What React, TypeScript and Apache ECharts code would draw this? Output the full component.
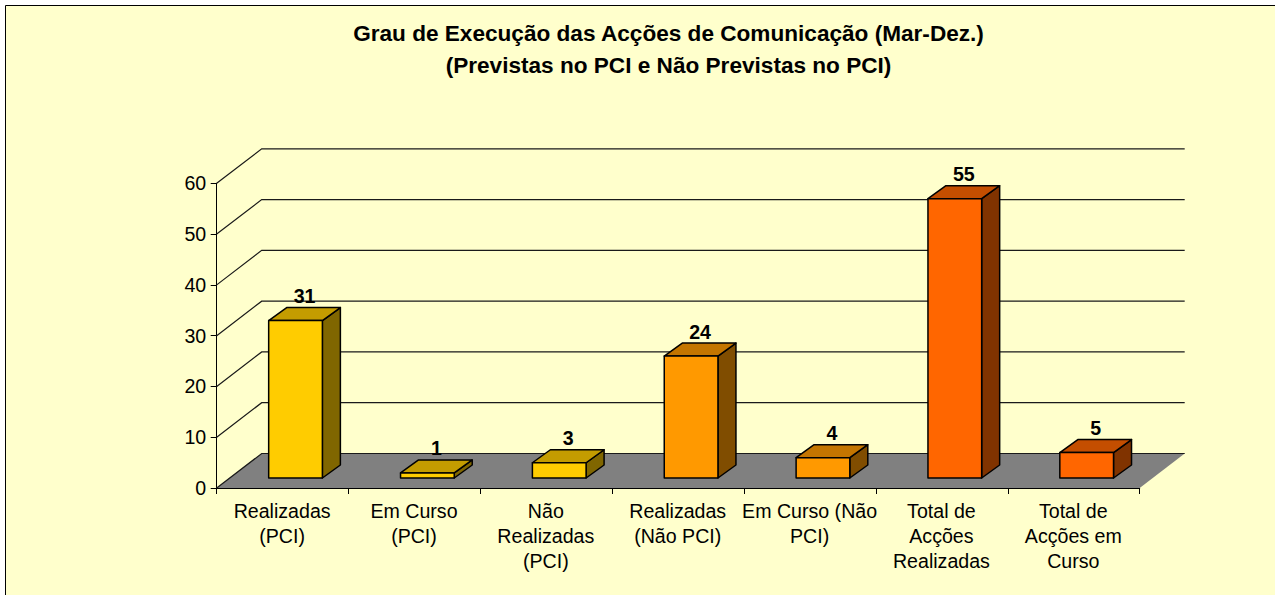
import React, { useEffect, useRef } from "react";
import * as echarts from "echarts";

const titleText = "Grau de Execução das Acções de Comunicação (Mar-Dez.)\n(Previstas no PCI e Não Previstas no PCI)";
const categories = [
  "Realizadas\n(PCI)",
  "Em Curso\n(PCI)",
  "Não\nRealizadas\n(PCI)",
  "Realizadas\n(Não PCI)",
  "Em Curso (Não\nPCI)",
  "Total de\nAcções\nRealizadas",
  "Total de\nAcções em\nCurso",
];
const values = [31, 1, 3, 24, 4, 55, 5];
const frontColors = ["#FFCC00", "#FFCC00", "#FFCC00", "#FF9900", "#FF9900", "#FF6600", "#FF6600"];
const topColors = ["#C49C00", "#C49C00", "#C49C00", "#C47500", "#C47500", "#C44E00", "#C44E00"];
const sideColors = ["#806600", "#806600", "#806600", "#804D00", "#804D00", "#803300", "#803300"];
const gridTicks = [0, 10, 20, 30, 40, 50, 60];

const FONT = '"Liberation Sans", Arial, sans-serif';
const WALL_DX = 45;
const WALL_DY = 34.5;
const BAR_DX = 18;
const BAR_DY = 13;
const FRONT_DX = 12.9;
const FRONT_DY = 10;
const BAR_W = 53.7;

export default function App() {
  const ref = useRef<HTMLDivElement>(null);
  useEffect(() => {
    document.body.style.margin = "0";
    const chart = echarts.init(ref.current!, undefined, { renderer: "svg" });
    chart.setOption({
      animation: false,
      backgroundColor: "#FFFFFF",
      graphic: [
        {
          type: "rect",
          z: -10,
          silent: true,
          shape: { x: 5.5, y: 5.5, width: 1300, height: 620 },
          style: { fill: "#FFFFCC", stroke: "#000000", lineWidth: 1 },
        },
      ],
      title: {
        text: titleText,
        left: 663.5,
        top: 12,
        textAlign: "center",
        textStyle: { fontFamily: FONT, fontWeight: "bold", fontSize: 22.6, lineHeight: 32, color: "#000000" },
      },
      grid: { left: 216.7, top: 183.3, width: 923, height: 304.7 },
      xAxis: {
        type: "category",
        data: categories,
        boundaryGap: true,
        axisLine: { lineStyle: { color: "#000000", width: 1 } },
        axisTick: { show: true, length: 6, alignWithLabel: false, lineStyle: { color: "#000000" } },
        axisLabel: { interval: 0, fontFamily: FONT, fontSize: 19.6, lineHeight: 25, color: "#000000", margin: 10, padding: [0, 1, 0, 0] },
        splitLine: { show: false },
      },
      yAxis: {
        type: "value",
        min: 0,
        max: 60,
        interval: 10,
        axisLine: { show: true, lineStyle: { color: "#000000", width: 1 } },
        axisTick: { show: true, length: 6, lineStyle: { color: "#000000" } },
        axisLabel: { fontFamily: FONT, fontSize: 19.6, color: "#000000", margin: 10.5 },
        splitLine: { show: false },
      },
      series: [
        {
          type: "custom",
          z: 1,
          silent: true,
          data: [[0, 0]],
          encode: { x: 0, y: 1 },
          renderItem: (params: any, api: any) => {
            const cs = params.coordSys;
            const y = api.coord([0, 0])[1];
            return {
              type: "polygon",
              shape: {
                points: [
                  [cs.x, y],
                  [cs.x + WALL_DX, y - WALL_DY],
                  [cs.x + cs.width + WALL_DX, y - WALL_DY],
                  [cs.x + cs.width, y],
                ],
              },
              style: { fill: "#808080", stroke: "none" },
            };
          },
        },
        {
          type: "custom",
          z: 2,
          silent: true,
          data: gridTicks.map((v) => [0, v]),
          encode: { x: 0, y: 1 },
          renderItem: (params: any, api: any) => {
            const cs = params.coordSys;
            const y = api.coord([0, api.value(1)])[1];
            return {
              type: "polyline",
              shape: {
                points: [
                  [cs.x, y],
                  [cs.x + WALL_DX, y - WALL_DY],
                  [cs.x + cs.width + WALL_DX, y - WALL_DY],
                ],
              },
              style: { fill: "none", stroke: "#1A1A1A", lineWidth: 1.2 },
            };
          },
        },
        {
          type: "custom",
          z: 3,
          silent: true,
          data: values.map((v, i) => [i, v]),
          encode: { x: 0, y: 1 },
          renderItem: (params: any, api: any) => {
            const i = api.value(0);
            const v = api.value(1);
            const cx = api.coord([i, 0])[0] + FRONT_DX;
            const x0 = cx - BAR_W / 2;
            const x1 = cx + BAR_W / 2;
            const yb = api.coord([i, 0])[1] - FRONT_DY;
            const yt = yb - (api.coord([i, 0])[1] - api.coord([i, v])[1]);
            const edge = { stroke: "#000000", lineWidth: 1.5, lineJoin: "round" };
            return {
              type: "group",
              children: [
                {
                  type: "polygon",
                  shape: { points: [[x1, yb], [x1 + BAR_DX, yb - BAR_DY], [x1 + BAR_DX, yt - BAR_DY], [x1, yt]] },
                  style: { fill: sideColors[i], ...edge },
                },
                {
                  type: "polygon",
                  shape: { points: [[x0, yt], [x0 + BAR_DX, yt - BAR_DY], [x1 + BAR_DX, yt - BAR_DY], [x1, yt]] },
                  style: { fill: topColors[i], ...edge },
                },
                {
                  type: "rect",
                  shape: { x: x0, y: yt, width: BAR_W, height: yb - yt },
                  style: { fill: frontColors[i], ...edge },
                },
                {
                  type: "text",
                  x: cx + BAR_DX / 2,
                  y: yt - BAR_DY - 11.5,
                  style: {
                    text: String(v),
                    fontFamily: FONT,
                    fontWeight: "bold",
                    fontSize: 19.6,
                    fill: "#000000",
                    align: "center",
                    verticalAlign: "middle",
                  },
                },
              ],
            };
          },
        },
      ],
    });
    return () => chart.dispose();
  }, []);
  return <div ref={ref} style={{ position: "absolute", left: 0, top: 0, width: 1275, height: 595 }} />;
}
